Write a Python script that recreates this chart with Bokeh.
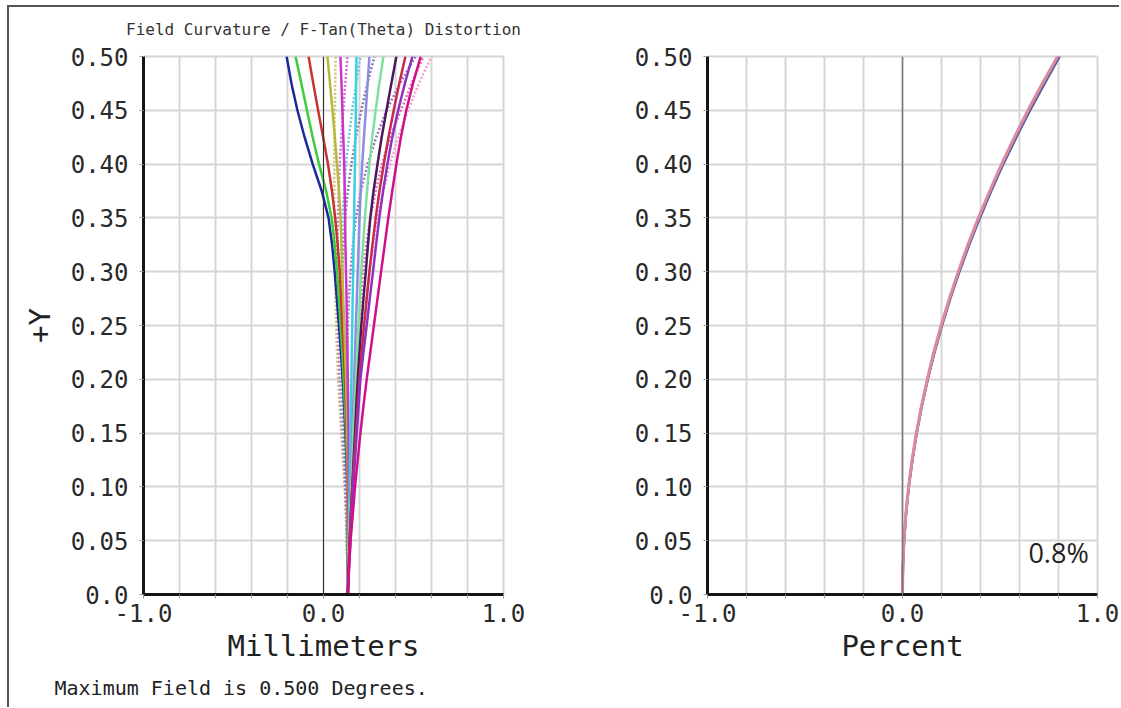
from bokeh.plotting import figure
from bokeh.models import FixedTicker, Span, Label, Range1d, Title
from bokeh.layouts import row
from bokeh.embed import file_html
from bokeh.resources import INLINE

# ---------------- data ----------------
field_y = [0.0, 0.025, 0.05, 0.075, 0.10, 0.125, 0.15, 0.175, 0.20, 0.225, 0.25,
           0.275, 0.30, 0.325, 0.35, 0.375, 0.40, 0.425, 0.45, 0.475, 0.50]

# field curvature, solid curves (mm)
s_blue     = [0.135, 0.135, 0.135, 0.134, 0.132, 0.128, 0.122, 0.115, 0.107, 0.097, 0.086,
              0.074, 0.062, 0.048, 0.028, -0.010, -0.060, -0.105, -0.145, -0.178, -0.205]
s_green    = [0.135, 0.135, 0.135, 0.134, 0.133, 0.130, 0.125, 0.119, 0.112, 0.104, 0.095,
              0.085, 0.075, 0.062, 0.045, 0.015, -0.025, -0.060, -0.092, -0.123, -0.155]
s_red      = [0.135, 0.135, 0.135, 0.135, 0.134, 0.132, 0.129, 0.125, 0.120, 0.113, 0.105,
              0.098, 0.090, 0.079, 0.065, 0.047, 0.025, -0.002, -0.030, -0.057, -0.083]
s_olive    = [0.135, 0.135, 0.135, 0.135, 0.135, 0.134, 0.132, 0.129, 0.125, 0.120, 0.115,
              0.110, 0.105, 0.100, 0.095, 0.086, 0.075, 0.063, 0.050, 0.036, 0.022]
s_magenta  = [0.135, 0.136, 0.137, 0.138, 0.139, 0.139, 0.139, 0.137, 0.135, 0.133, 0.130,
              0.128, 0.125, 0.122, 0.120, 0.118, 0.115, 0.110, 0.105, 0.100, 0.094]
s_cyan     = [0.135, 0.137, 0.140, 0.142, 0.145, 0.147, 0.150, 0.152, 0.155, 0.157, 0.160,
              0.162, 0.165, 0.167, 0.170, 0.172, 0.175, 0.177, 0.180, 0.181, 0.183]
s_lavender = [0.135, 0.137, 0.140, 0.145, 0.150, 0.155, 0.160, 0.165, 0.170, 0.175, 0.180,
              0.185, 0.190, 0.195, 0.200, 0.207, 0.215, 0.225, 0.235, 0.245, 0.255]
s_lgreen   = [0.135, 0.137, 0.140, 0.147, 0.155, 0.160, 0.165, 0.172, 0.180, 0.187, 0.195,
              0.202, 0.210, 0.220, 0.230, 0.242, 0.255, 0.271, 0.290, 0.310, 0.333]
s_dpurple  = [0.135, 0.140, 0.145, 0.152, 0.160, 0.167, 0.175, 0.182, 0.190, 0.200, 0.210,
              0.222, 0.235, 0.247, 0.260, 0.278, 0.300, 0.323, 0.350, 0.377, 0.405]
s_crimson  = [0.135, 0.140, 0.145, 0.152, 0.160, 0.170, 0.180, 0.190, 0.200, 0.212, 0.225,
              0.240, 0.255, 0.272, 0.290, 0.311, 0.335, 0.361, 0.390, 0.421, 0.455]
s_purple   = [0.135, 0.142, 0.150, 0.157, 0.165, 0.175, 0.185, 0.195, 0.205, 0.222, 0.240,
              0.257, 0.275, 0.292, 0.310, 0.331, 0.355, 0.382, 0.415, 0.452, 0.494]
s_pink     = [0.135, 0.142, 0.150, 0.163, 0.175, 0.190, 0.205, 0.222, 0.240, 0.260, 0.280,
              0.300, 0.320, 0.340, 0.360, 0.382, 0.405, 0.430, 0.460, 0.497, 0.540]

# field curvature, dotted curves (mm)
t_olive    = [0.135, 0.133, 0.130, 0.124, 0.117, 0.108, 0.098, 0.089, 0.081, 0.075, 0.070,
              0.067, 0.065, 0.062, 0.060, 0.060, 0.060, 0.061, 0.063, 0.065, 0.067]
t_magenta  = [0.135, 0.133, 0.130, 0.126, 0.120, 0.113, 0.105, 0.097, 0.090, 0.085, 0.080,
              0.077, 0.075, 0.077, 0.080, 0.084, 0.090, 0.099, 0.110, 0.121, 0.133]
t_cyan     = [0.135, 0.133, 0.130, 0.128, 0.125, 0.118, 0.110, 0.105, 0.100, 0.097, 0.095,
              0.095, 0.095, 0.099, 0.105, 0.114, 0.125, 0.141, 0.160, 0.181, 0.205]
t_gray     = [0.135, 0.133, 0.130, 0.128, 0.125, 0.120, 0.115, 0.110, 0.105, 0.102, 0.100,
              0.102, 0.105, 0.111, 0.120, 0.135, 0.155, 0.180, 0.210, 0.244, 0.283]
t_purple   = [0.135, 0.135, 0.135, 0.135, 0.135, 0.132, 0.130, 0.130, 0.130, 0.132, 0.135,
              0.141, 0.150, 0.163, 0.180, 0.208, 0.245, 0.293, 0.350, 0.425, 0.510]
t_pink     = [0.135, 0.137, 0.140, 0.145, 0.150, 0.155, 0.160, 0.167, 0.175, 0.185, 0.195,
              0.207, 0.220, 0.238, 0.260, 0.290, 0.325, 0.370, 0.430, 0.490, 0.555]
t_lpink    = [0.135, 0.140, 0.145, 0.152, 0.160, 0.170, 0.180, 0.190, 0.200, 0.212, 0.225,
              0.240, 0.255, 0.276, 0.300, 0.332, 0.370, 0.415, 0.470, 0.530, 0.600]

# F-Tan(Theta) distortion (percent)
dist_blue  = [0.0, 0.002, 0.008, 0.018, 0.032, 0.051, 0.073, 0.099, 0.130, 0.164, 0.203,
              0.245, 0.292, 0.342, 0.397, 0.455, 0.517, 0.584, 0.654, 0.729, 0.806]
dist_gray  = [0.0, 0.002, 0.008, 0.018, 0.032, 0.050, 0.072, 0.098, 0.128, 0.162, 0.200,
              0.242, 0.288, 0.338, 0.392, 0.450, 0.512, 0.578, 0.648, 0.722, 0.800]
dist_pink  = [0.0, 0.002, 0.007, 0.017, 0.031, 0.049, 0.071, 0.097, 0.127, 0.160, 0.198,
              0.240, 0.286, 0.335, 0.389, 0.447, 0.508, 0.574, 0.643, 0.717, 0.795]

x_ticks = [-1.0, -0.8, -0.6, -0.4, -0.2, 0.0, 0.2, 0.4, 0.6, 0.8, 1.0]
x_tick_labels = ["-1.0", "", "", "", "", "0.0", "", "", "", "", "1.0"]
y_ticks = [0.0, 0.05, 0.10, 0.15, 0.20, 0.25, 0.30, 0.35, 0.40, 0.45, 0.50]
y_tick_labels = ["0.0", "0.05", "0.10", "0.15", "0.20", "0.25", "0.30", "0.35", "0.40", "0.45", "0.50"]

title_text = "Field Curvature / F-Tan(Theta) Distortion"
footer_text = "Maximum Field is 0.500 Degrees."
dist_note = "0.8%"

solid_series = [
    (s_blue, "#1a2a9a"), (s_green, "#3ccc3c"), (s_red, "#c83232"), (s_olive, "#b8b83a"),
    (s_magenta, "#cc33cc"), (s_cyan, "#3ad0e0"), (s_lavender, "#8c8ce0"), (s_lgreen, "#7ee0a0"),
    (s_dpurple, "#4a1a5a"), (s_crimson, "#c8284a"), (s_purple, "#9030c0"), (s_pink, "#d0108a"),
]
dotted_series = [
    (t_olive, "#c8c870"), (t_magenta, "#d070d0"), (t_cyan, "#70c8d8"), (t_gray, "#8a7aa8"),
    (t_purple, "#a070c8"), (t_pink, "#e070b0"), (t_lpink, "#f0a0d0"),
]
dist_series = [(dist_blue, "#4a5aa0", 2.5), (dist_gray, "#8a6a9a", 2.5), (dist_pink, "#dc8aa0", 3)]

MONO = "DejaVu Sans Mono"
GRID = "#d6d6d6"
TOP = 60        # canvas top border (canvas starts a little above the page frame line)


def make_fig(frame_w, b_left, b_right, xlabel, ylabel):
    p = figure(frame_width=frame_w, frame_height=538,
               x_range=Range1d(-1.0, 1.0), y_range=Range1d(0.0, 0.5),
               min_border_left=b_left, min_border_right=b_right,
               min_border_top=TOP, min_border_bottom=110,
               output_backend="svg", toolbar_location=None,
               background_fill_color="white", border_fill_alpha=0.0,
               margin=(-11, 0, 0, 0))
    p.outline_line_color = GRID
    p.outline_line_width = 2
    for g, t in ((p.xgrid, x_ticks), (p.ygrid, y_ticks)):
        g.ticker = FixedTicker(ticks=t)
        g.grid_line_color = GRID
        g.grid_line_width = 2
    p.xaxis.ticker = FixedTicker(ticks=x_ticks)
    p.xaxis.major_label_overrides = dict(zip(x_ticks, x_tick_labels))
    p.yaxis.ticker = FixedTicker(ticks=y_ticks)
    p.yaxis.major_label_overrides = dict(zip(y_ticks, y_tick_labels))
    for ax in (p.xaxis, p.yaxis):
        ax.axis_line_color = "#151515"
        ax.axis_line_width = 3
        ax.major_tick_line_color = "#999999"
        ax.major_tick_in = 0
        ax.major_tick_out = 4
        ax.minor_tick_line_color = None
        ax.major_label_text_font = MONO
        ax.major_label_text_font_size = "24px"
        ax.major_label_text_color = "#2a2a2a"
        ax.axis_label_text_font = MONO
        ax.axis_label_text_font_size = "29px"
        ax.axis_label_text_font_style = "normal"
        ax.axis_label_text_color = "#222222"
    p.xaxis.major_label_standoff = 5
    p.yaxis.major_label_standoff = 11
    p.xaxis.axis_label = xlabel
    p.xaxis.axis_label_standoff = 4
    if ylabel:
        p.yaxis.axis_label = ylabel
        p.yaxis.axis_label_standoff = 11
    return p


# ---------------- left: field curvature ----------------
p1 = make_fig(360, 134, 96, "Millimeters", "+Y")
p1.title.text = title_text
p1.title.align = "center"
p1.title.text_font = MONO
p1.title.text_font_size = "16px"
p1.title.text_font_style = "normal"
p1.title.text_color = "#333333"
p1.title.standoff = 35
p1.add_layout(Span(location=0.0, dimension="height", line_color="#333333", line_width=1))
for vals, col in dotted_series:
    p1.line(vals, field_y, line_color=col, line_width=2.5, line_dash="2 2")
for vals, col in solid_series:
    p1.line(vals, field_y, line_color=col, line_width=2.5)
p1.add_layout(Title(text=footer_text, align="left", offset=-89, standoff=16,
                    text_font=MONO, text_font_size="20px", text_font_style="normal",
                    text_color="#222222"), "below")

# ---------------- right: distortion ----------------
p2 = make_fig(390, 108, 22, "Percent", None)
p2.add_layout(Span(location=0.0, dimension="height", line_color="#777777", line_width=1.5))
for vals, col, w in dist_series:
    p2.line(vals, field_y, line_color=col, line_width=w)
p2.add_layout(Label(x=0.955, y=0.039, text=dist_note, text_font="Open Sans",
                    text_font_size="27px", text_color="#222222",
                    text_align="right", text_baseline="middle"))

layout = row(p1, p2, margin=(5, 0, 0, 7),
             styles={"border-top": "2px solid #555555", "border-left": "2px solid #555555"})

open("out.html", "w").write(file_html(layout, INLINE))
